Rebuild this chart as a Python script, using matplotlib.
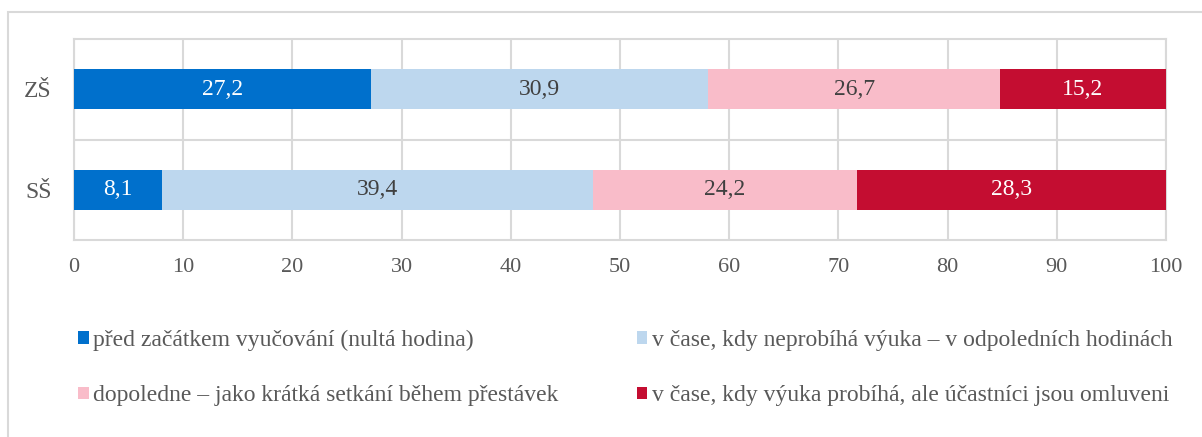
import numpy as np
import matplotlib.pyplot as plt
from matplotlib.patches import Patch, Rectangle

plt.rcParams['font.family'] = ['Liberation Serif', 'DejaVu Serif']

# data
categories = ['ZŠ', 'SŠ']
series_names = [
    'před začátkem vyučování (nultá hodina)',
    'v čase, kdy neprobíhá výuka – v odpoledních hodinách',
    'dopoledne – jako krátká setkání během přestávek',
    'v čase, kdy výuka probíhá, ale účastníci jsou omluveni',
]
values = [
    [27.2, 8.1],
    [30.9, 39.4],
    [26.7, 24.2],
    [15.2, 28.3],
]
colors = ['#0070CC', '#BDD7EE', '#F9BCC9', '#C40D31']
label_colors = ['white', '#404040', '#404040', 'white']
xticks = [0, 10, 20, 30, 40, 50, 60, 70, 80, 90, 100]

fig = plt.figure(figsize=(12.02, 4.37), dpi=100)
ax = fig.add_axes([74/1202, 1-240/437, (1166-74)/1202, (240-39)/437])

y = np.arange(len(categories))
left = np.zeros(len(categories))
for vals, c, tc, name in zip(values, colors, label_colors, series_names):
    vals = np.array(vals)
    bars = ax.barh(y, vals, left=left, height=0.4, color=c, label=name, zorder=3)
    for b, v in zip(bars, vals):
        ax.text(b.get_x() + b.get_width()/2, b.get_y() + b.get_height()/2,
                f'{v:.1f}'.replace('.', ','), ha='center', va='center',
                color=tc, fontsize=17, zorder=4)
    left += vals

ax.set_xlim(0, 100)
ax.set_ylim(1.5, -0.5)
ax.set_xticks(xticks)
ax.set_yticks(y)
ax.set_yticklabels(categories)
ax.set_yticks([0.5], minor=True)
ax.tick_params(axis='both', which='both', length=0, colors='#595959')
ax.tick_params(axis='x', pad=13, labelsize=16)
ax.tick_params(axis='y', pad=16, labelsize=17)
ax.grid(axis='x', color='#D9D9D9', linewidth=1.5, zorder=0)
ax.grid(axis='y', which='minor', color='#D9D9D9', linewidth=1.5, zorder=0)
for s in ax.spines.values():
    s.set_color('#D9D9D9')
    s.set_linewidth(1.5)

# legend fills column-wise, reorder so rows read like the original
order = [0, 2, 1, 3]
handles = [Patch(facecolor=colors[i], edgecolor='none') for i in order]
labels = [series_names[i] for i in order]
fig.legend(handles, labels, ncol=2, loc='upper left',
           bbox_to_anchor=(78/1202, 1-330/437), frameon=False, fontsize=17,
           handlelength=0.45, handleheight=0.45, handletextpad=0.2,
           columnspacing=3.3, labelspacing=1.45, borderpad=0, borderaxespad=0,
           labelcolor='#595959')

fig.patches.append(Rectangle((8/1202, -0.5), 2, 1.5 - 12/437, transform=fig.transFigure,
                             fill=False, edgecolor='#D9D9D9', linewidth=1.5))

fig.savefig('out.png', dpi=100)
